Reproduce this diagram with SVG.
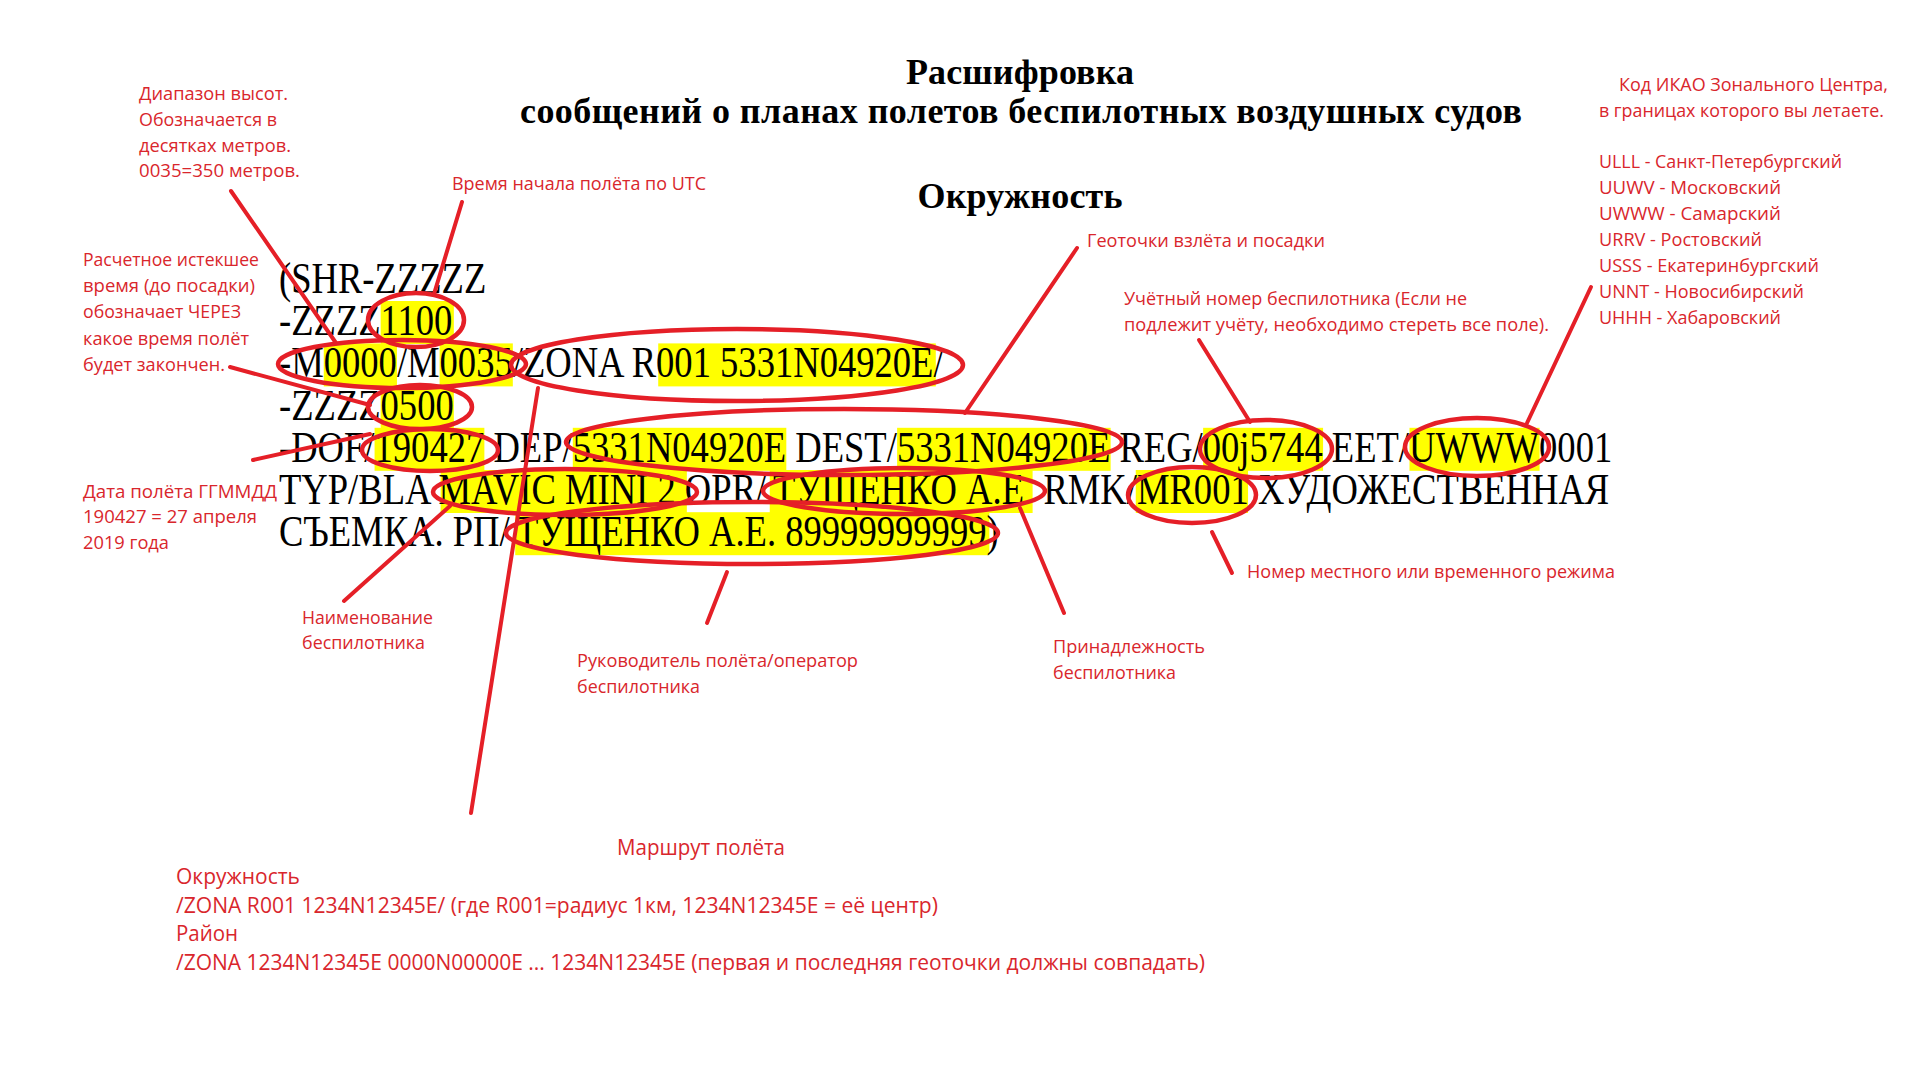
<svg xmlns="http://www.w3.org/2000/svg" width="1920" height="1080" viewBox="0 0 1920 1080">
<style>
.lbl{font-family:"Open Sans","Noto Sans",sans-serif;font-size:18px;fill:#D9262C}
.big{font-size:21px}
.body{font-family:"Liberation Serif",serif;font-size:44px;fill:#000}
.title{font-family:"Liberation Serif",serif;font-weight:bold;font-size:36px;fill:#000}
.hl{fill:#FFFF00}
.ring{fill:none;stroke:#E51F27;stroke-width:4.5}
.conn line{stroke:#E51F27;stroke-width:4;stroke-linecap:round}
</style>
<rect width="1920" height="1080" fill="#fff"/>

<g id="title">
<text class="title" x="1020" y="84" text-anchor="middle" textLength="228" lengthAdjust="spacing">Расшифровка</text>
<text class="title" x="1021" y="123" text-anchor="middle" textLength="1002" lengthAdjust="spacing">сообщений о планах полетов беспилотных воздушных судов</text>
<text class="title" x="1020" y="208" text-anchor="middle" textLength="205" lengthAdjust="spacing">Окружность</text>
</g>

<g id="message" transform="translate(279 0) scale(0.8318 1)">
<g id="highlights">
<rect class="hl" x="122.2" y="301" width="88" height="43"/>
<rect class="hl" x="53.8" y="343.4" width="88" height="43"/>
<rect class="hl" x="193.1" y="343.4" width="88" height="43"/>
<rect class="hl" x="455.9" y="343.4" width="333.7" height="43"/>
<rect class="hl" x="122.2" y="385.6" width="88" height="43"/>
<rect class="hl" x="114.9" y="427.8" width="132" height="43"/>
<rect class="hl" x="353.2" y="427.8" width="256.7" height="43"/>
<rect class="hl" x="743.1" y="427.8" width="256.7" height="43"/>
<rect class="hl" x="1111" y="427.8" width="144.2" height="43"/>
<rect class="hl" x="1359.1" y="427.8" width="156.4" height="43"/>
<rect class="hl" x="194.3" y="470" width="296" height="43"/>
<rect class="hl" x="590" y="470" width="316" height="43"/>
<rect class="hl" x="1030" y="470" width="135" height="43"/>
<rect class="hl" x="284" y="512.2" width="570" height="43"/>
</g>
<text class="body" x="0" y="293">(SHR-ZZZZZ</text>
<text class="body" x="0" y="335">-ZZZZ1100</text>
<text class="body" x="0" y="377.4">-M0000/M0035/ZONA R001 5331N04920E/</text>
<text class="body" x="0" y="419.6">-ZZZZ0500</text>
<text class="body" x="0" y="461.8">-DOF/190427 DEP/5331N04920E DEST/5331N04920E REG/00j5744 EET/UWWW0001</text>
<text class="body" y="504"><tspan x="0">TYP/BLA MAVIC MINI 2 OPR/</tspan><tspan x="594">ТУЩЕНКО А.Е</tspan><tspan x="908"> RMK/MR001 ХУДОЖЕСТВЕННАЯ</tspan></text>
<text class="body" y="546.2"><tspan x="0">СЪЕМКА. РП/</tspan><tspan x="285">ТУЩЕНКО А.Е. 89999999999)</tspan></text>
</g>

<g id="rings">
<ellipse class="ring" cx="416" cy="320" rx="48" ry="27"/>
<ellipse class="ring" cx="402" cy="364" rx="124" ry="24"/>
<ellipse class="ring" cx="737" cy="365" rx="226" ry="36"/>
<ellipse class="ring" cx="420" cy="407" rx="52" ry="22"/>
<ellipse class="ring" cx="430" cy="450" rx="68" ry="21"/>
<ellipse class="ring" cx="844" cy="442" rx="278" ry="33"/>
<ellipse class="ring" cx="1266" cy="449" rx="66" ry="29"/>
<ellipse class="ring" cx="1477" cy="447" rx="72" ry="29"/>
<ellipse class="ring" cx="565" cy="492" rx="132" ry="23"/>
<ellipse class="ring" cx="904" cy="491" rx="141" ry="23"/>
<ellipse class="ring" cx="1192" cy="495" rx="64" ry="28"/>
<ellipse class="ring" cx="752" cy="533" rx="246" ry="31"/>
</g>

<g id="connectors" class="conn">
<line x1="231" y1="191" x2="336" y2="343"/>
<line x1="462" y1="202" x2="434" y2="294"/>
<line x1="230" y1="367" x2="370" y2="405"/>
<line x1="253" y1="460" x2="370" y2="434"/>
<line x1="344" y1="601" x2="450" y2="506"/>
<line x1="471" y1="813" x2="538" y2="388"/>
<line x1="707" y1="623" x2="727" y2="572"/>
<line x1="1064" y1="613" x2="1020" y2="508"/>
<line x1="1232" y1="573" x2="1212" y2="532"/>
<line x1="1077" y1="248" x2="965" y2="413"/>
<line x1="1199" y1="340" x2="1250" y2="422"/>
<line x1="1591" y1="287" x2="1527" y2="423"/>
</g>

<g id="label-altitude">
<text class="lbl" x="139" y="100" textLength="149" lengthAdjust="spacingAndGlyphs">Диапазон высот.</text>
<text class="lbl" x="139" y="126" textLength="138" lengthAdjust="spacingAndGlyphs">Обозначается в</text>
<text class="lbl" x="139" y="151.5" textLength="152" lengthAdjust="spacingAndGlyphs">десятках метров.</text>
<text class="lbl" x="139" y="177" textLength="161" lengthAdjust="spacingAndGlyphs">0035=350 метров.</text>
</g>
<g id="label-start-time">
<text class="lbl" x="452" y="190" textLength="254" lengthAdjust="spacingAndGlyphs">Время начала полёта по UTC</text>
</g>
<g id="label-eet">
<text class="lbl" x="83" y="266" textLength="176" lengthAdjust="spacingAndGlyphs">Расчетное истекшее</text>
<text class="lbl" x="83" y="292" textLength="172" lengthAdjust="spacingAndGlyphs">время (до посадки)</text>
<text class="lbl" x="83" y="318" textLength="158" lengthAdjust="spacingAndGlyphs">обозначает ЧЕРЕЗ</text>
<text class="lbl" x="83" y="344.5" textLength="166" lengthAdjust="spacingAndGlyphs">какое время полёт</text>
<text class="lbl" x="83" y="370.5" textLength="142" lengthAdjust="spacingAndGlyphs">будет закончен.</text>
</g>
<g id="label-date">
<text class="lbl" x="83" y="497.5" textLength="194" lengthAdjust="spacingAndGlyphs">Дата полёта ГГММДД</text>
<text class="lbl" x="83" y="523" textLength="174" lengthAdjust="spacingAndGlyphs">190427 = 27 апреля</text>
<text class="lbl" x="83" y="548.5" textLength="86" lengthAdjust="spacingAndGlyphs">2019 года</text>
</g>
<g id="label-name">
<text class="lbl" x="302" y="623.5" textLength="131" lengthAdjust="spacingAndGlyphs">Наименование</text>
<text class="lbl" x="302" y="649" textLength="123" lengthAdjust="spacingAndGlyphs">беспилотника</text>
</g>
<g id="label-operator">
<text class="lbl" x="577" y="667" textLength="281" lengthAdjust="spacingAndGlyphs">Руководитель полёта/оператор</text>
<text class="lbl" x="577" y="693" textLength="123" lengthAdjust="spacingAndGlyphs">беспилотника</text>
</g>
<g id="label-owner">
<text class="lbl" x="1053" y="653" textLength="152" lengthAdjust="spacingAndGlyphs">Принадлежность</text>
<text class="lbl" x="1053" y="679" textLength="123" lengthAdjust="spacingAndGlyphs">беспилотника</text>
</g>
<g id="label-regime">
<text class="lbl" x="1247" y="578" textLength="368" lengthAdjust="spacingAndGlyphs">Номер местного или временного режима</text>
</g>
<g id="label-geo">
<text class="lbl" x="1087" y="247" textLength="238" lengthAdjust="spacingAndGlyphs">Геоточки взлёта и посадки</text>
</g>
<g id="label-reg">
<text class="lbl" x="1124" y="305" textLength="343" lengthAdjust="spacingAndGlyphs">Учётный номер беспилотника (Если не</text>
<text class="lbl" x="1124" y="331" textLength="425" lengthAdjust="spacingAndGlyphs">подлежит учёту, необходимо стереть все поле).</text>
</g>
<g id="label-icao">
<text class="lbl" x="1619" y="91" textLength="269" lengthAdjust="spacingAndGlyphs">Код ИКАО Зонального Центра,</text>
<text class="lbl" x="1599" y="116.5" textLength="285" lengthAdjust="spacingAndGlyphs">в границах которого вы летаете.</text>
<text class="lbl" x="1599" y="168" textLength="243" lengthAdjust="spacingAndGlyphs">ULLL - Санкт-Петербургский</text>
<text class="lbl" x="1599" y="194" textLength="182" lengthAdjust="spacingAndGlyphs">UUWV - Московский</text>
<text class="lbl" x="1599" y="220" textLength="182" lengthAdjust="spacingAndGlyphs">UWWW - Самарский</text>
<text class="lbl" x="1599" y="246" textLength="163" lengthAdjust="spacingAndGlyphs">URRV - Ростовский</text>
<text class="lbl" x="1599" y="272" textLength="220" lengthAdjust="spacingAndGlyphs">USSS - Екатеринбургский</text>
<text class="lbl" x="1599" y="298" textLength="205" lengthAdjust="spacingAndGlyphs">UNNT - Новосибирский</text>
<text class="lbl" x="1599" y="324" textLength="182" lengthAdjust="spacingAndGlyphs">UHHH - Хабаровский</text>
</g>
<g id="label-route">
<text class="lbl big" x="617" y="855" textLength="168" lengthAdjust="spacingAndGlyphs">Маршрут полёта</text>
<text class="lbl big" x="176" y="884" textLength="124" lengthAdjust="spacingAndGlyphs">Окружность</text>
<text class="lbl big" x="176" y="912.5" textLength="762" lengthAdjust="spacingAndGlyphs">/ZONA R001 1234N12345E/ (где R001=радиус 1км, 1234N12345E = её центр)</text>
<text class="lbl big" x="176" y="941" textLength="62" lengthAdjust="spacingAndGlyphs">Район</text>
<text class="lbl big" x="176" y="969.5" textLength="1029" lengthAdjust="spacingAndGlyphs">/ZONA 1234N12345E 0000N00000E ... 1234N12345E (первая и последняя геоточки должны совпадать)</text>
</g>
</svg>
